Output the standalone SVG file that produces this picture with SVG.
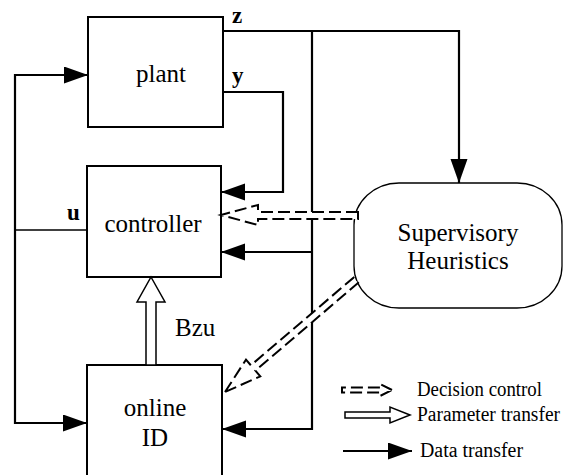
<svg xmlns="http://www.w3.org/2000/svg" width="566" height="475" viewBox="0 0 566 475">
  <style>
    .box { fill: #fff; stroke: #000; stroke-width: 2; }
    .lbl { font-family: "Liberation Serif", "Times New Roman", serif; font-size: 25px; fill: #000; }
    .sig { font-family: "Liberation Serif", "Times New Roman", serif; font-size: 23px; font-weight: bold; fill: #000; }
    .leg { font-family: "Liberation Serif", "Times New Roman", serif; font-size: 20px; fill: #000; }
    .wire { fill: none; stroke: #000; stroke-width: 2.2; }
    .thin { fill: none; stroke: #000; stroke-width: 1.6; }
    .data { fill: none; stroke: #000; stroke-width: 2.2; marker-end: url(#solid); }
    .decision { fill: #fff; stroke: #000; stroke-width: 2; stroke-dasharray: 12 5; }
    .param { fill: #fff; stroke: #000; stroke-width: 1.5; }
  </style>
  <defs>
    <marker id="solid" markerUnits="userSpaceOnUse" markerWidth="25" markerHeight="18" refX="24" refY="8.5" orient="auto">
      <path d="M0,0 L24,8.5 L0,17 Z" fill="#000"/>
    </marker>
  </defs>

  <!-- nodes -->
  <g id="plant">
    <rect class="box" x="88" y="17" width="135" height="110"/>
    <text class="lbl" x="161" y="82" text-anchor="middle">plant</text>
  </g>
  <g id="controller">
    <rect class="box" x="87" y="166" width="134" height="111"/>
    <text class="lbl" x="153" y="232" text-anchor="middle">controller</text>
  </g>
  <g id="online-id">
    <rect class="box" x="87" y="365" width="135" height="120"/>
    <text class="lbl" x="155" y="416" text-anchor="middle">online</text>
    <text class="lbl" x="155" y="446" text-anchor="middle">ID</text>
  </g>
  <g id="supervisory-heuristics">
    <rect x="354" y="183" width="208" height="125" rx="45" ry="42" fill="#fff" stroke="#000" stroke-width="1.3"/>
    <text class="lbl" x="458" y="241" text-anchor="middle">Supervisory</text>
    <text class="lbl" x="458" y="269" text-anchor="middle">Heuristics</text>
  </g>

  <!-- connectors -->
  <g id="connectors">
    <!-- z output: to supervisor and down the measurement bus -->
    <path class="data" d="M223,31 H459 V183"/>
    <path class="data" d="M312,31 V429 H222"/>
    <path class="data" d="M312,252 H221"/>
    <!-- y output back to controller -->
    <path class="data" d="M223,92 H283 V192 H221"/>
    <!-- u control signal -->
    <path class="thin" d="M87,230 H15"/>
    <path class="data" d="M15,230 V75 H88"/>
    <path class="data" d="M15,230 V423 H87"/>

    <!-- decision control: supervisor to controller -->
    <polygon class="decision" points="358,212 258,212 258,205 221,215 258,225 258,219 358,219"/>
    <!-- decision control: supervisor to online ID -->
    <g transform="translate(225,392) rotate(-40.5)">
      <polygon class="decision" points="0,0 37,-11 37,-3.5 172,-3.5 172,3.5 37,3.5 37,11"/>
    </g>
    <!-- parameter transfer Bzu -->
    <polygon class="param" points="151,277 165,302 156,302 156,365 146,365 146,302 137,302"/>
  </g>

  <!-- signal labels -->
  <text class="sig" x="232" y="23">z</text>
  <text class="sig" x="232" y="83">y</text>
  <text class="sig" x="67" y="220">u</text>
  <text class="lbl" x="175" y="336">Bzu</text>

  <!-- legend -->
  <g id="legend">
    <polygon class="decision" stroke-width="1.8" stroke-dasharray="10 4" points="392,390 380,384 380,387.5 342,387.5 342,392.5 380,392.5 380,396"/>
    <text class="leg" x="417" y="396" textLength="125" lengthAdjust="spacingAndGlyphs">Decision control</text>
    <polygon class="param" points="410,415 390,407 390,412 345,412 345,418 390,418 390,423"/>
    <text class="leg" x="417" y="421" textLength="143" lengthAdjust="spacingAndGlyphs">Parameter transfer</text>
    <path class="data" d="M343,451 H412"/>
    <text class="leg" x="420" y="457" textLength="103" lengthAdjust="spacingAndGlyphs">Data transfer</text>
  </g>
</svg>
